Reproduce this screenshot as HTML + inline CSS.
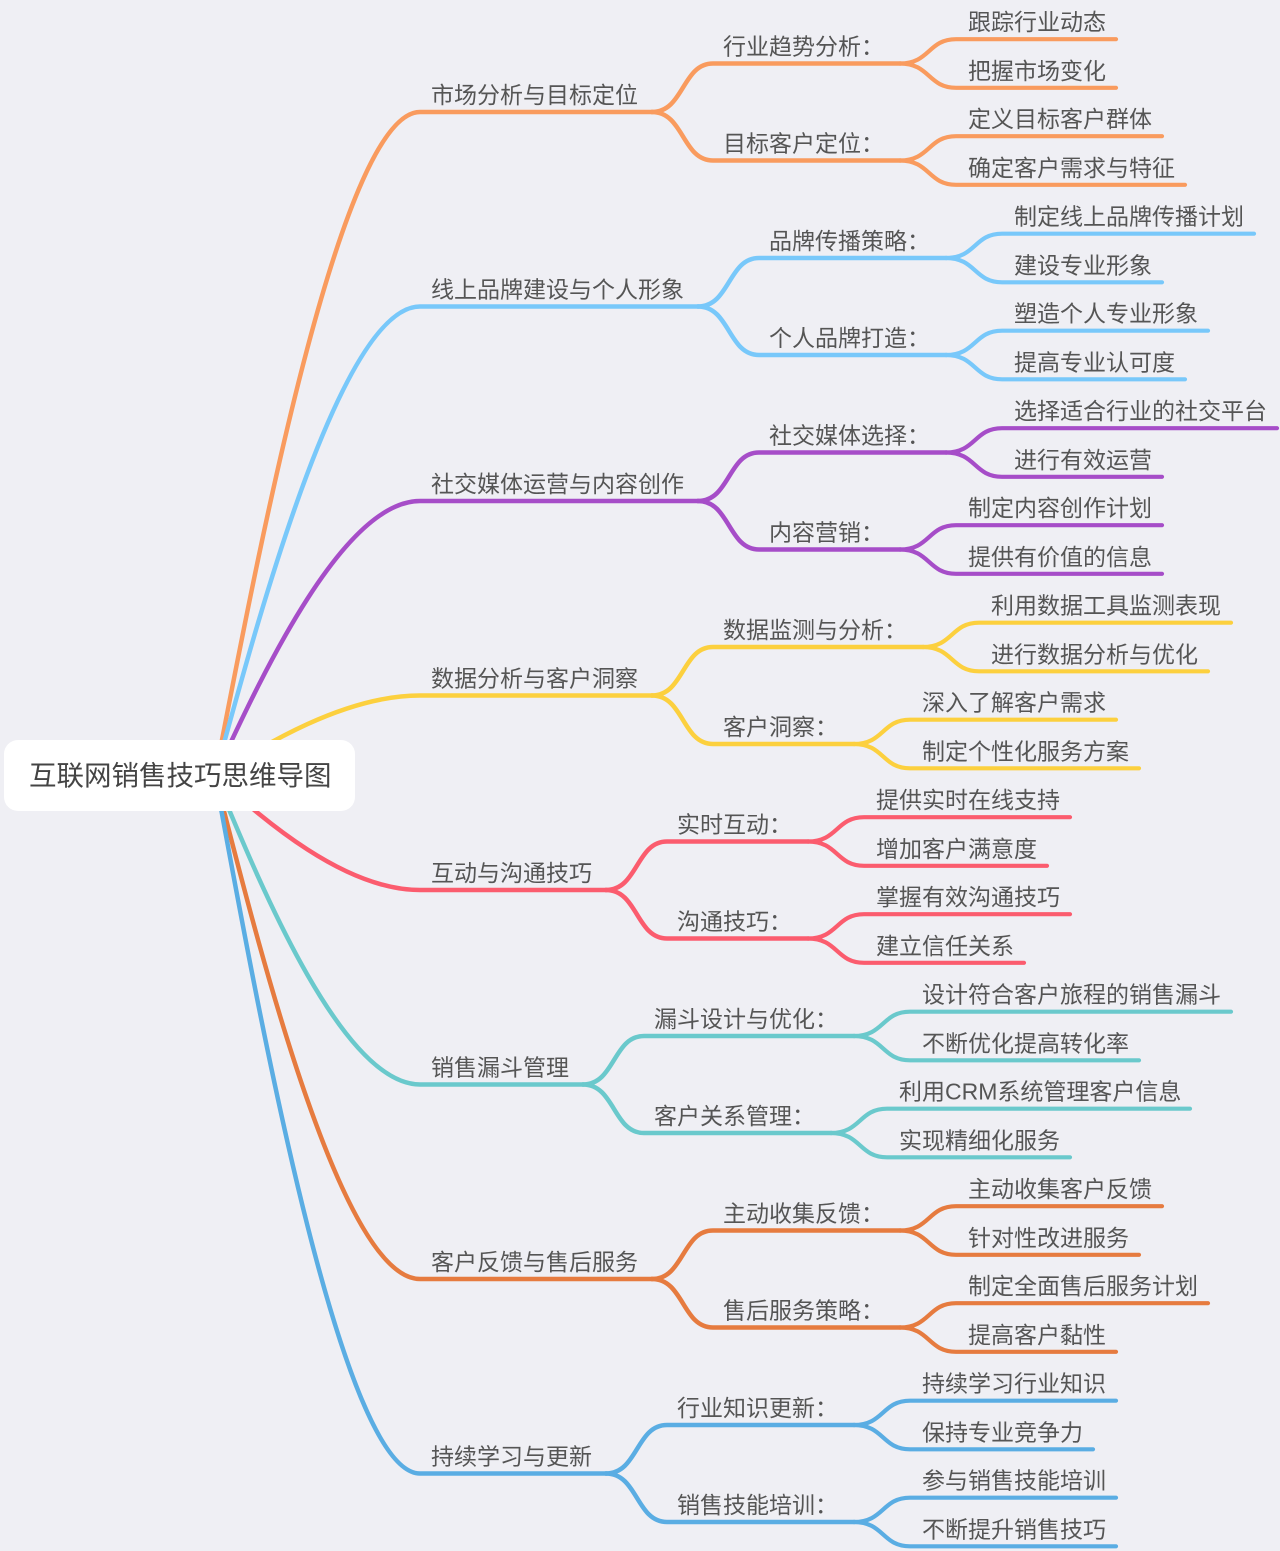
<!DOCTYPE html>
<html><head><meta charset="utf-8">
<style>
html,body{margin:0;padding:0;background:#efeff4;}
svg{display:block;}
text{font-family:"Liberation Sans","Noto Sans CJK SC",sans-serif;font-size:23px;fill:#555;}
.root{position:absolute;left:4px;top:740px;width:351px;height:71px;background:#fff;border-radius:14px;box-sizing:border-box;padding-left:25px;line-height:71px;font-family:"Liberation Sans","Noto Sans CJK SC",sans-serif;font-size:27.5px;color:#444;}
</style></head>
<body>
<div style="position:relative;width:1280px;height:1551px;overflow:hidden;">
<svg id="s" width="1280" height="1551" viewBox="0 0 1280 1551">
<g id="p" fill="none" stroke-linecap="round"></g>
<g id="t">
<text>市场分析与目标定位</text><text>行业趋势分析：</text><text>跟踪行业动态</text><text>把握市场变化</text><text>目标客户定位：</text><text>定义目标客户群体</text><text>确定客户需求与特征</text>
<text>线上品牌建设与个人形象</text><text>品牌传播策略：</text><text>制定线上品牌传播计划</text><text>建设专业形象</text><text>个人品牌打造：</text><text>塑造个人专业形象</text><text>提高专业认可度</text>
<text>社交媒体运营与内容创作</text><text>社交媒体选择：</text><text>选择适合行业的社交平台</text><text>进行有效运营</text><text>内容营销：</text><text>制定内容创作计划</text><text>提供有价值的信息</text>
<text>数据分析与客户洞察</text><text>数据监测与分析：</text><text>利用数据工具监测表现</text><text>进行数据分析与优化</text><text>客户洞察：</text><text>深入了解客户需求</text><text>制定个性化服务方案</text>
<text>互动与沟通技巧</text><text>实时互动：</text><text>提供实时在线支持</text><text>增加客户满意度</text><text>沟通技巧：</text><text>掌握有效沟通技巧</text><text>建立信任关系</text>
<text>销售漏斗管理</text><text>漏斗设计与优化：</text><text>设计符合客户旅程的销售漏斗</text><text>不断优化提高转化率</text><text>客户关系管理：</text><text>利用CRM系统管理客户信息</text><text>实现精细化服务</text>
<text>客户反馈与售后服务</text><text>主动收集反馈：</text><text>主动收集客户反馈</text><text>针对性改进服务</text><text>售后服务策略：</text><text>制定全面售后服务计划</text><text>提高客户黏性</text>
<text>持续学习与更新</text><text>行业知识更新：</text><text>持续学习行业知识</text><text>保持专业竞争力</text><text>销售技能培训：</text><text>参与销售技能培训</text><text>不断提升销售技巧</text>
</g>
</svg>
<div class="root">互联网销售技巧思维导图</div>
</div>
<script>
(function(){
var cols=["#f99b5e","#78c8fa","#a64dc8","#fcd03e","#fb5c6e","#6ac9cc","#e67b3f","#5aade3"];
var ts=document.querySelectorAll('#t text');
var pg=document.getElementById('p');
function w(s){var n=0;for(var i=0;i<s.length;i++){n+=s.charCodeAt(i)<128?17:23;}return n;}
function path(d,c,sw){var e=document.createElementNS('http://www.w3.org/2000/svg','path');e.setAttribute('d',d);e.setAttribute('stroke',c);e.setAttribute('stroke-width',sw);pg.appendChild(e);}
function place(el,x,y){el.setAttribute('x',x);el.setAttribute('y',y-9);}
var k=0;
for(var b=0;b<8;b++){
 var c=cols[b];
 var Y1=112+194.5*b;
 var t1=ts[k++];var s1=t1.textContent;
 var x1=431;place(t1,x1,Y1);
 var e1=x1+w(s1)+14;
 path('M215,776 C255,'+(776-(776-Y1)*0.31)+' 340,'+Y1+' 420,'+Y1+' L'+e1+','+Y1,c,4.5);
 for(var j=0;j<2;j++){
  var Y2=Y1+(j?48.5:-48.5);
  var t2=ts[k++];var s2=t2.textContent;
  var x2=e1+71;place(t2,x2,Y2);
  var e2=x2+w(s2)+16;
  path('M'+e1+','+Y1+' C'+(e1+32)+','+Y1+' '+(e1+30)+','+Y2+' '+(x2-10)+','+Y2+' L'+e2+','+Y2,c,4.5);
  for(var m=0;m<2;m++){
   var Y3=Y2+(m?24.3:-24.3);
   var t3=ts[k++];var s3=t3.textContent;
   var x3=e2+68;place(t3,x3,Y3);
   var e3=x3+w(s3)+10;
   path('M'+e2+','+Y2+' C'+(e2+30)+','+Y2+' '+(e2+28)+','+Y3+' '+(x3-12)+','+Y3+' L'+e3+','+Y3,c,4.2);
  }
 }
}
})();
</script>
</body></html>
